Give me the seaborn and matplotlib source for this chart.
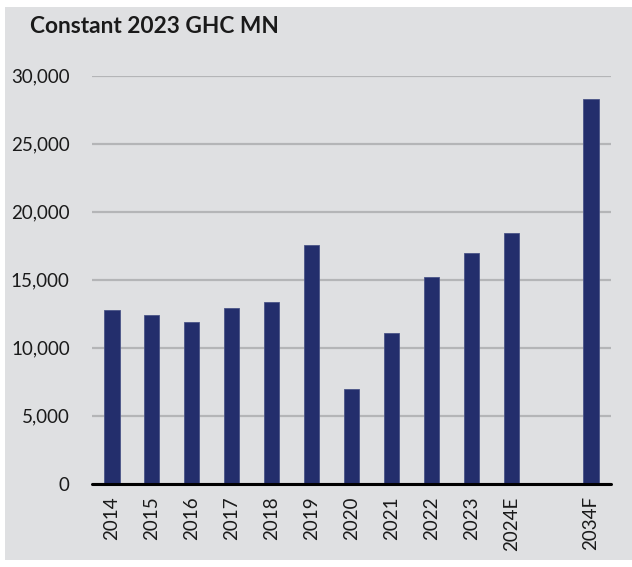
import matplotlib
matplotlib.use("Agg")
import matplotlib.pyplot as plt
import seaborn as sns
import pandas as pd
from matplotlib.patches import Rectangle
from matplotlib.ticker import FuncFormatter

# Data
YEARS = ['2014', '2015', '2016', '2017', '2018', '2019', '2020',
         '2021', '2022', '2023', '2024E', '2034F']
VALUES = [12750, 12430, 11890, 12940, 13360, 17530, 6940,
          11100, 15220, 16940, 18410, 28270]
ORDER = YEARS[:11] + [' '] + YEARS[11:]   # empty slot before the forecast
TITLE = 'Constant 2023 GHC MN'

BAR_COLOR = '#232e6c'
PANEL_BG = '#dfe0e2'
GRID_COLOR = '#b4b5b7'

sns.set_style('white')
plt.rcParams['font.family'] = ['Lato', 'DejaVu Sans']

df = pd.DataFrame({'year': YEARS, 'value': VALUES})

fig = plt.figure(figsize=(6.32, 5.67), dpi=100, facecolor='white')
fig.patches.append(Rectangle((5 / 632, 1 - 560 / 567), 1 - 5 / 632, (560 - 7) / 567,
                             transform=fig.transFigure, facecolor=PANEL_BG,
                             edgecolor='none', zorder=-5))

ax = fig.add_axes([92 / 632, 1 - 483.7 / 567, (611 - 92) / 632, (483.7 - 75.7) / 567])
ax.set_facecolor('none')
ax.set_zorder(2)

sns.barplot(data=df, x='year', y='value', order=ORDER, color=BAR_COLOR,
            width=0.38, saturation=1, ax=ax, zorder=3,
            edgecolor='#4a5488', linewidth=0.6)

ax.set_ylim(0, 30000)
ax.set_xlim(-0.5, len(ORDER) - 0.5)
ax.set_yticks(range(0, 30001, 5000))
ax.yaxis.set_major_formatter(FuncFormatter(lambda v, p: f'{int(v):,}'))
ax.grid(True, axis='y', color=GRID_COLOR, linewidth=1.6, zorder=1)
ax.set_axisbelow(True)
ax.axhline(0, color='black', linewidth=2.2, zorder=4, clip_on=False)
for s in ax.spines.values():
    s.set_visible(False)

ax.set_xlabel('')
ax.set_ylabel('')
ax.tick_params(axis='y', length=0, pad=16, labelsize=13.5, labelcolor='#1a1a1a')
ax.tick_params(axis='x', length=0, pad=9, labelsize=13.5, labelcolor='#1a1a1a',
               rotation=90)

fig.text(30 / 632, 1 - 33 / 567, TITLE, fontsize=16.3, fontweight='bold',
         color='#1a1a1a', va='baseline', ha='left', zorder=5)

fig.savefig('out.png', dpi=100, facecolor='white')
